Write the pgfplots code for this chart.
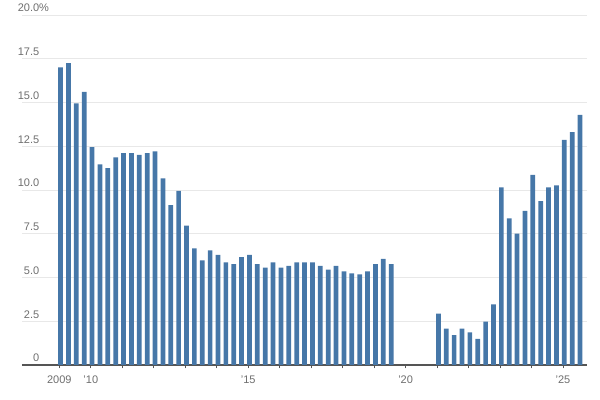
\documentclass[border=0pt]{standalone}
\usepackage{fontspec}
\setmainfont{Liberation Sans}
\usepackage{pgfplots}
\pgfplotsset{compat=1.18}
\usepackage{pgfplotstable}

\definecolor{barblue}{HTML}{4677A8}
\definecolor{labgray}{HTML}{6E6E6E}
\definecolor{axgray}{HTML}{555555}
\definecolor{gridgray}{HTML}{E8E8E8}

% quarterly values, x = year + quarter offset
\pgfplotstableread{
x y
2009.04 17.00
2009.29 17.25
2009.54 14.95
2009.79 15.60
2010.04 12.45
2010.29 11.47
2010.54 11.25
2010.79 11.87
2011.04 12.10
2011.29 12.10
2011.54 12.00
2011.79 12.10
2012.04 12.20
2012.29 10.67
2012.54 9.14
2012.79 9.95
2013.04 7.96
2013.29 6.67
2013.54 5.98
2013.79 6.55
2014.04 6.29
2014.29 5.87
2014.54 5.77
2014.79 6.17
2015.04 6.29
2015.29 5.77
2015.54 5.56
2015.79 5.87
2016.04 5.56
2016.29 5.66
2016.54 5.87
2016.79 5.87
2017.04 5.87
2017.29 5.66
2017.54 5.45
2017.79 5.66
2018.04 5.35
2018.29 5.24
2018.54 5.18
2018.79 5.35
2019.04 5.77
2019.29 6.06
2019.54 5.77
2021.04 2.93
2021.29 2.08
2021.54 1.70
2021.79 2.08
2022.04 1.87
2022.29 1.49
2022.54 2.48
2022.79 3.47
2023.04 10.15
2023.29 8.38
2023.54 7.50
2023.79 8.80
2024.04 10.87
2024.29 9.36
2024.54 10.15
2024.79 10.27
2025.04 12.86
2025.29 13.30
2025.54 14.29
}\rates

\begin{document}
\begin{tikzpicture}[font=\fontsize{8.25pt}{10pt}\selectfont]
\begin{axis}[
    scale only axis,
    width=423.75pt, height=262.5pt,
    xmin=2007.815, xmax=2025.76,
    ymin=0, ymax=20,
    enlargelimits=false,
    axis x line*=bottom,
    axis y line*=left,
    y axis line style={draw=none},
    x axis line style={draw=axgray, line width=0.8pt},
    xtick={2009,...,2025},
    xticklabels={2009,’10,,,,,’15,,,,,’20,,,,,’25},
    xtick style={draw=axgray, line width=0.6pt},
    major tick length=2.5pt,
    tick align=outside,
    xticklabel style={inner sep=0pt, anchor=north, yshift=-5.5pt, text=labgray},
    ytick={0,2.5,...,20},
    yticklabels={0,2.5,5.0,7.5,10.0,12.5,15.0,17.5,20.0\rlap{\%}},
    ytick style={draw=none},
    yticklabel style={inner sep=0pt, anchor=base east, xshift=15.6pt, yshift=2.4pt, text=labgray},
    ymajorgrids,
    grid style={draw=gridgray, line width=0.6pt},
    axis on top=false,
]
\addplot[ybar, bar width=0.15, bar shift=0pt, fill=barblue, draw=none] table[x=x, y=y] {\rates};
\coordinate (bl) at (rel axis cs:0,0);
\end{axis}
\pgfresetboundingbox
\useasboundingbox ([shift={(-16.5pt,-26.25pt)}]bl) rectangle ([shift={(433.5pt,273.75pt)}]bl);
\end{tikzpicture}
\end{document}
